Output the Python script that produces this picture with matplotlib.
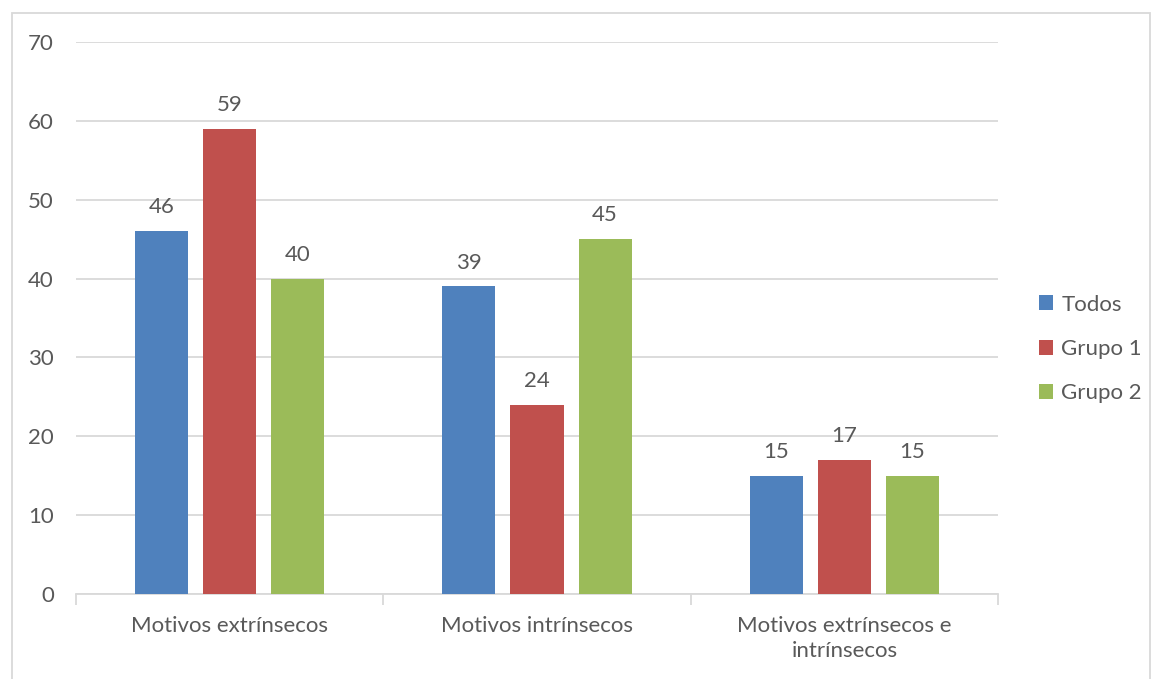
import matplotlib
matplotlib.use("Agg")
import matplotlib.pyplot as plt
from matplotlib.patches import Rectangle
import numpy as np

categories = ["Motivos extrínsecos", "Motivos intrínsecos", "Motivos extrínsecos e\nintrínsecos"]
series_names = ["Todos", "Grupo 1", "Grupo 2"]
todos = [46, 39, 15]
grupo1 = [59, 24, 17]
grupo2 = [40, 45, 15]
colors = ["#4F81BD", "#C0504D", "#9BBB59"]
yticks = [0, 10, 20, 30, 40, 50, 60, 70]

plt.rcParams["font.family"] = ["Lato", "DejaVu Sans"]
text_color = "#595959"
grid_color = "#D9D9D9"
fs = 16

W, H = 1151, 679
fig = plt.figure(figsize=(W / 100, H / 100), dpi=100)
fig.patch.set_facecolor("white")

# outer chart frame
fig.patches.append(Rectangle((12 / W, -0.05), (1150 - 12) / W, 1 - 13 / H + 0.05,
                             transform=fig.transFigure, fill=False,
                             edgecolor=grid_color, linewidth=1.3))

ax = fig.add_axes([76 / W, 1 - 594 / H, (998 - 76) / W, (594 - 42) / H])
x = np.arange(len(categories))
width = 0.1725
step = 0.2213
series = [todos, grupo1, grupo2]
for i, (vals, name, c) in enumerate(zip(series, series_names, colors)):
    bars = ax.bar(x + (i - 1) * step, vals, width, color=c, label=name, zorder=3)
    for b, v in zip(bars, vals):
        ax.annotate(str(v), (b.get_x() + b.get_width() / 2, v), xytext=(0, 10),
                    textcoords="offset points", ha="center", va="bottom",
                    fontsize=fs, color=text_color)

ax.set_xlim(-0.5, len(categories) - 0.5)
ax.set_ylim(0, 70)
ax.set_yticks(yticks)
ax.yaxis.grid(True, color=grid_color, linewidth=1.3, zorder=0)
ax.tick_params(axis="y", length=0, pad=16, labelsize=fs, labelcolor=text_color)
ax.set_xticks(x)
ax.set_xticklabels(categories, fontsize=fs, color=text_color, linespacing=1.3)
ax.tick_params(axis="x", which="major", length=0, pad=16)
ax.set_xticks(np.arange(-0.5, len(categories)), minor=True)
ax.tick_params(axis="x", which="minor", length=8, color=grid_color, width=1.3)
for s in ["top", "right", "left"]:
    ax.spines[s].set_visible(False)
ax.spines["bottom"].set_color(grid_color)
ax.spines["bottom"].set_linewidth(1.3)
ax.set_axisbelow(True)

leg = ax.legend(loc="center left", bbox_to_anchor=(1039 / W, 1 - 349 / H),
                bbox_transform=fig.transFigure, frameon=False, fontsize=fs,
                borderpad=0, borderaxespad=0,
                handlelength=0.65, handleheight=0.65, handletextpad=0.35,
                labelspacing=1.1, labelcolor=text_color)

fig.savefig("out.png", dpi=100)
